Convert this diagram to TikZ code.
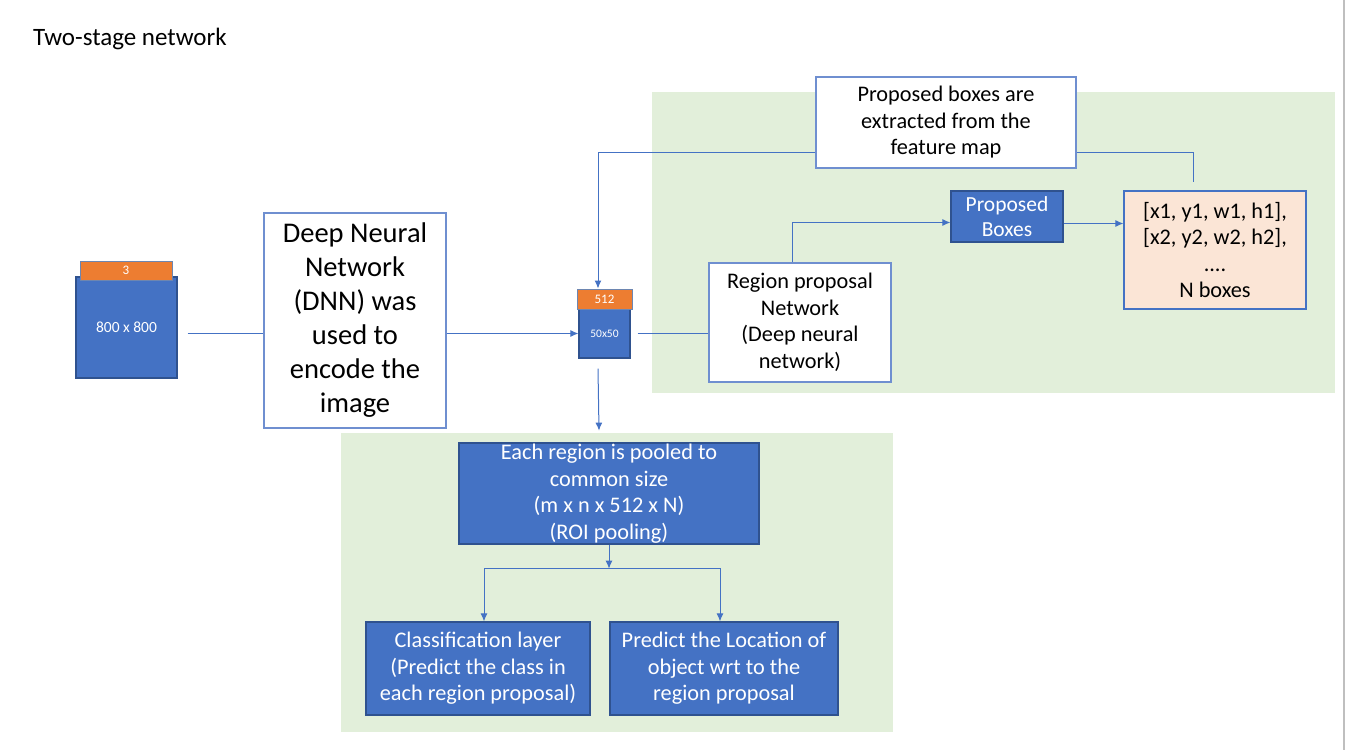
\documentclass[tikz,border=0pt]{standalone}
\usepackage{fontspec}
\setmainfont{Carlito}
\usetikzlibrary{positioning, arrows.meta}
\definecolor{bblue}{HTML}{4472C4}
\definecolor{dblue}{HTML}{2F528F}
\definecolor{lblue}{HTML}{6F8FD0}
\definecolor{borange}{HTML}{ED7D31}
\definecolor{lgreen}{HTML}{E2EFDA}
\definecolor{peach}{HTML}{FBE5D6}
\tikzset{
  wbox/.style={draw=lblue, line width=1.2pt, fill=white, align=center, inner sep=0pt},
  bbox/.style={draw=dblue, line width=1.2pt, fill=bblue, text=white, align=center, inner sep=0pt},
  tab/.style={draw=dblue!70, line width=1pt, fill=borange, text=white, inner sep=0pt, font=\fontsize{13}{15}\selectfont},
  link/.style={draw=bblue, line width=1pt},
  arr/.style={link, -{Latex[length=8pt,width=7pt]}},
  mid/.style={font=\fontsize{22.3}{26.5}\selectfont}
}
\begin{document}
\begin{tikzpicture}[x=1pt, y=-1pt]
  \useasboundingbox (0,0) rectangle (1345,750);
  \draw [gray!50, line width=1.5pt] (1344,0) -- (1344,750);
  \node [anchor=west, inner sep=0pt, font=\fontsize{25}{30}\selectfont] (title) at (33,39) {Two-stage network};
  \fill [lgreen] (652,92) rectangle (1335,393);
  \fill [lgreen] (341,433) rectangle (893,732);
  \node [bbox, minimum width=101pt, minimum height=101pt, font=\fontsize{15.5}{18}\selectfont] (img) at (126.5,327.5) {800 x 800};
  \node [tab, minimum width=92pt, minimum height=19pt] (imgtab) at (126,270.5) {3};
  \node [wbox, minimum width=182pt, minimum height=215pt, font=\fontsize{28.5}{34}\selectfont] (dnn) at (355,320.5)
    {Deep Neural\\Network\\(DNN) was\\used to\\encode the\\image};
  \node [bbox, minimum width=51pt, minimum height=49pt, font=\fontsize{11.5}{13}\selectfont] (fm) at (604.5,333.5) {50x50};
  \node [tab, minimum width=55pt, minimum height=20pt] (fmtab) at (604.5,299) {512};
  \node [wbox, mid, minimum width=260pt, minimum height=91pt] (extr) at (946,122.5)
    {Proposed boxes are\\extracted from the\\feature map};
  \node [wbox, mid, minimum width=182pt, minimum height=119pt] (rpn) at (800,322.5)
    {Region proposal\\Network\\(Deep neural\\network)};
  \node [bbox, minimum width=112pt, minimum height=51pt, font=\fontsize{21.5}{25}\selectfont] (pb) at (1007,216.5)
    {Proposed\\Boxes};
  \node [wbox, mid, draw=bblue, fill=peach, minimum width=182pt, minimum height=118pt] (bb) at (1215,250)
    {[x1, y1, w1, h1],\\{}[x2, y2, w2, h2],\\....\\N boxes};
  \node [bbox, mid, minimum width=300pt, minimum height=101pt] (pool) at (609,493.5)
    {Each region is pooled to\\common size\\(m x n x 512 x N)\\(ROI pooling)};
  \node [bbox, mid, minimum width=224pt, minimum height=93pt] (cls) at (478,668.5)
    {Classification layer\\(Predict the class in\\each region proposal)};
  \node [bbox, mid, minimum width=228pt, minimum height=93pt] (loc) at (724,668.5)
    {Predict the Location of\\object wrt to the\\region proposal};
  \draw [link] (img.east |- fm) ++(10,0) -- (dnn.west |- fm);
  \draw [arr] (dnn.east |- fm) -- (fm.west);
  \draw [link] ([xshift=7pt]fm.east) -- (rpn.west |- fm);
  \draw [arr] ([yshift=-29.5pt]extr.west) -| ([xshift=-6.5pt]fmtab.north);
  \draw [link] ([yshift=-29.5pt]extr.east) -| ([xshift=-22pt,yshift=8pt]bb.north);
  \draw [arr] ([xshift=-8pt]rpn.north) |- ([yshift=-6pt]pb.west);
  \draw [arr] ([yshift=-7pt]pb.east) -- ([yshift=-7pt]pb.east -| bb.west);
  \draw [arr] ([xshift=-6.5pt,yshift=-10pt]fm.south) -- ++(1,62);
  \draw [arr] (pool.south) -- ++(0,24) coordinate (split);
  \draw [arr] (split) -| ([xshift=6pt]cls.north);
  \draw [arr] (split) -| ([xshift=-4pt]loc.north);
\end{tikzpicture}
\end{document}
